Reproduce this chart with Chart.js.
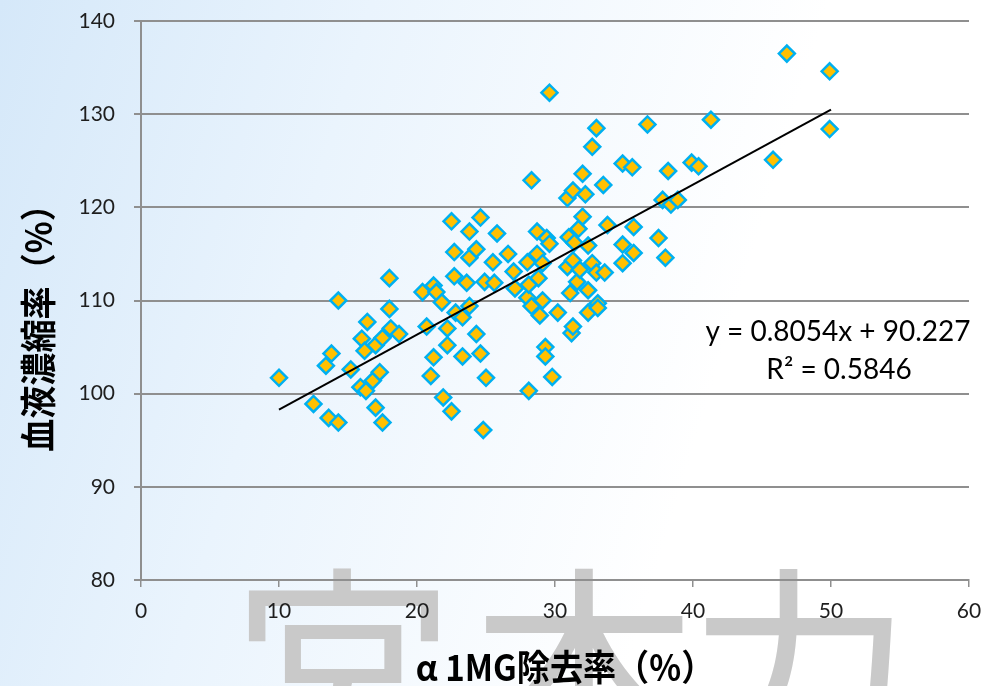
<!DOCTYPE html>
<html>
<head>
<meta charset="utf-8">
<script src="https://cdn.jsdelivr.net/npm/chart.js@4/dist/chart.umd.min.js"></script>
<style>
html, body { margin: 0; padding: 0; background: #ffffff; }
#wrap { width: 986px; height: 686px; position: relative; }
canvas { display: block; }
</style>
</head>
<body>
<div id="wrap"><canvas id="chart" width="986" height="686"></canvas></div>
<script>
// α1MG除去率 (%)
const removalRate = [
  10.0,12.5,13.4,13.6,13.8,14.3,14.3,15.2,16.0,16.2,
  16.4,15.9,16.3,16.8,17.0,17.0,17.3,17.5,17.5,18.0,
  18.0,18.1,18.7,20.4,20.7,21.0,21.2,21.2,21.4,21.8,
  21.9,22.2,22.2,22.5,22.5,22.7,22.7,22.8,23.3,23.3,
  23.6,23.8,23.8,23.8,24.3,24.3,24.6,24.6,24.8,24.9,
  25.0,25.6,25.5,25.8,26.6,27.0,27.1,28.0,28.0,28.1,
  28.1,28.3,28.3,28.7,28.7,28.8,28.9,29.1,29.1,29.3,
  29.3,29.4,29.6,29.6,29.8,30.2,30.9,30.9,31.0,31.1,
  31.2,31.3,31.3,31.3,31.6,31.7,31.8,32.0,32.0,32.2,
  32.4,32.4,32.4,32.7,32.7,33.0,33.0,33.1,33.1,33.5,
  33.6,33.8,34.9,34.9,34.9,35.6,35.7,35.7,36.7,37.5,
  37.8,38.0,38.2,38.4,38.9,39.9,40.4,41.3,45.8,46.8,
  49.9,49.9,31.4
];

// 血液濃縮率 (%)
const concentrationRate = [
  101.7,98.9,103.0,97.4,104.3,96.9,110.0,102.6,105.9,104.6,
  107.7,100.7,100.3,101.4,105.2,98.5,102.3,106.0,96.9,112.4,
  109.1,107.0,106.4,110.9,107.2,101.9,111.6,103.9,110.9,109.8,
  99.6,107.0,105.2,118.5,98.1,115.2,112.6,108.7,108.2,104.0,
  111.9,117.4,114.6,109.4,115.5,106.4,118.9,104.3,96.1,112.0,
  101.7,111.9,114.1,117.2,115.0,113.1,111.3,114.1,110.3,111.7,
  100.3,109.4,122.9,117.4,115.0,112.4,108.4,114.0,110.0,105.0,
  104.0,116.7,116.1,132.3,101.8,108.7,113.6,121.0,116.8,110.8,
  106.5,121.8,114.3,107.2,112.0,117.7,113.3,123.6,119.0,121.4,
  115.9,111.1,108.7,126.5,114.0,128.5,113.0,109.7,109.2,122.4,
  113.0,118.1,124.7,116.0,114.0,124.3,117.9,115.1,128.9,116.7,
  120.8,114.6,123.9,120.3,120.8,124.8,124.4,129.4,125.1,136.5,
  134.6,128.4,116.2
];

const xTicks = [0, 10, 20, 30, 40, 50, 60];
const yTicks = [80, 90, 100, 110, 120, 130, 140];

// linear trend fitted to the points
const trendSlope = 0.8054;
const trendIntercept = 90.227;
const trendR2 = 0.5846;
const trendRange = [10, 50];

const xTitle = 'α 1MG除去率（%）';
const yTitle = '血液濃縮率（%）';
const watermark = ['宮', '本', '力'];

const points = removalRate.map((x, i) => ({ x: x, y: concentrationRate[i] }));
const trendPoints = trendRange.map(x => ({ x: x, y: trendSlope * x + trendIntercept }));

const gridGrey = '#8f8f8f';
const tickFont = { family: 'Lato', size: 21 };

// keep the plot area fixed: drop the label overhang Chart.js reserves
function clearOverhang(scale) {
  scale.paddingTop = 0;
  scale.paddingBottom = 0;
  scale.paddingLeft = 0;
  scale.paddingRight = 0;
}

const backdrop = {
  id: 'backdrop',
  beforeDraw(chart) {
    const ctx = chart.ctx;
    const w = chart.width, h = chart.height;
    ctx.save();
    const g = ctx.createLinearGradient(0, 0, 760, 230);
    g.addColorStop(0, '#d5e8f9');
    g.addColorStop(0.45, '#eaf4fd');
    g.addColorStop(1, '#ffffff');
    ctx.fillStyle = g;
    ctx.fillRect(0, 0, w, h);
    // large grey lettering along the bottom edge
    ctx.fillStyle = '#c9c9c9';
    ctx.font = '225px "Noto Sans CJK JP"';
    ctx.textAlign = 'center';
    ctx.textBaseline = 'alphabetic';
    const centers = [343, 584, 800];
    watermark.forEach((ch, i) => ctx.fillText(ch, centers[i], 758));
    ctx.restore();
  },
  afterDraw(chart) {
    const ctx = chart.ctx;
    ctx.save();
    ctx.fillStyle = '#000000';
    ctx.font = 'bold 36px "Noto Sans CJK JP"';
    ctx.textAlign = 'center';
    ctx.textBaseline = 'middle';
    ctx.save();
    ctx.translate(565, 667);
    ctx.scale(0.92, 1);
    ctx.fillText(xTitle, 0, 0);
    ctx.restore();
    ctx.save();
    ctx.translate(38, 320);
    ctx.rotate(-Math.PI / 2);
    ctx.scale(0.92, 1);
    ctx.fillText(yTitle, 0, 0);
    ctx.restore();

    // trend equation
    ctx.font = '28px Lato';
    ctx.fillStyle = '#000000';
    const sign = trendIntercept >= 0 ? '+' : '-';
    ctx.fillText('y = ' + trendSlope.toFixed(4) + 'x ' + sign + ' ' + Math.abs(trendIntercept).toFixed(3), 838, 332);
    ctx.fillText('R² = ' + trendR2.toFixed(4), 839, 370);
    ctx.restore();
  }
};

new Chart(document.getElementById('chart'), {
  type: 'scatter',
  data: {
    datasets: [
      {
        type: 'line',
        data: trendPoints,
        borderColor: '#000000',
        borderWidth: 2,
        pointRadius: 0,
        fill: false,
        tension: 0
      },
      {
        type: 'scatter',
        data: points,
        pointStyle: 'rectRot',
        pointRadius: 8,
        pointBorderWidth: 2.5,
        backgroundColor: '#ffc000',
        borderColor: '#00b0f0',
        pointBackgroundColor: '#ffc000',
        pointBorderColor: '#00b0f0'
      }
    ]
  },
  options: {
    responsive: false,
    animation: false,
    devicePixelRatio: 1,
    layout: { padding: { top: 21, right: 17, left: 0, bottom: 0 } },
    plugins: {
      legend: { display: false },
      tooltip: { enabled: false }
    },
    scales: {
      x: {
        type: 'linear',
        min: xTicks[0],
        max: xTicks[xTicks.length - 1],
        afterBuildTicks(scale) { scale.ticks = xTicks.map(v => ({ value: v })); },
        afterFit(scale) { scale.height = 106; clearOverhang(scale); },
        grid: {
          drawOnChartArea: false,
          drawTicks: true,
          tickLength: 7,
          color: gridGrey,
          lineWidth: 1.5
        },
        border: { display: true, color: gridGrey, width: 2 },
        ticks: { font: tickFont, color: '#1e1e1e', padding: 12, maxRotation: 0 }
      },
      y: {
        type: 'linear',
        min: yTicks[0],
        max: yTicks[yTicks.length - 1],
        afterBuildTicks(scale) { scale.ticks = yTicks.map(v => ({ value: v })); },
        afterFit(scale) { scale.width = 141; clearOverhang(scale); },
        grid: {
          drawTicks: true,
          tickLength: 7,
          color: gridGrey,
          lineWidth: 2
        },
        border: { display: true, color: gridGrey, width: 2 },
        ticks: { font: tickFont, color: '#1e1e1e', padding: 19 }
      }
    }
  },
  plugins: [backdrop]
});
</script>
</body>
</html>
